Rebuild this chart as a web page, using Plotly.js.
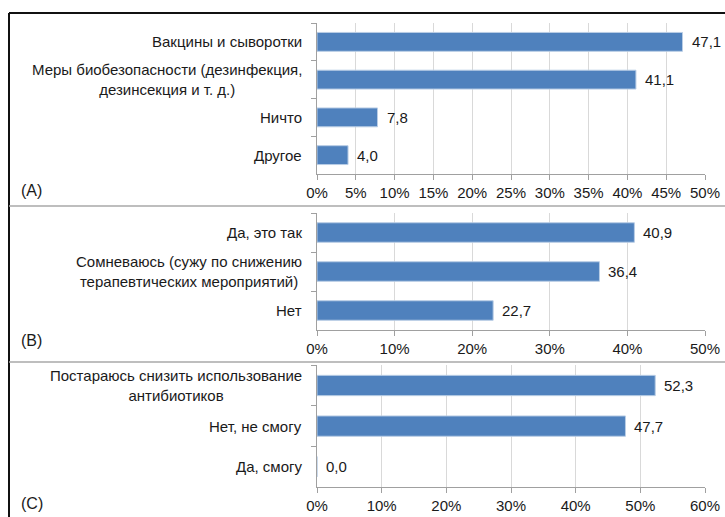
<!DOCTYPE html>
<html>
<head>
<meta charset="utf-8">
<script src="https://cdn.plot.ly/plotly-3.0.1.min.js"></script>
<style>html,body{margin:0;padding:0;background:#fff}#chart{width:725px;height:517px}</style>
</head>
<body>
<div id="chart"></div>
<script>
// Panel A
const catsA = ["Вакцины и сыворотки", "Меры биобезопасности (дезинфекция,<br>дезинсекция и т. д.)", "Ничто", "Другое"];
const valsA = [47.1, 41.1, 7.8, 4.0];
// Panel B
const catsB = ["Да, это так", "Сомневаюсь (сужу по снижению<br>терапевтических мероприятий)", "Нет"];
const valsB = [40.9, 36.4, 22.7];
// Panel C
const catsC = ["Постараюсь снизить использование<br>антибиотиков", "Нет, не смогу", "Да, смогу"];
const valsC = [52.3, 47.7, 0.0];
const panelLabels = ["(A)", "(B)", "(C)"];

const W = 725, H = 517;
const FONT = "Arial, 'Liberation Sans', sans-serif";
const FS = 15;
const barColor = "#4F81BD";
const fmt = v => v.toFixed(1).replace('.', ',');

const panels = [
  {cats: catsA, vals: valsA, top: 23, bottom: 174, range: [0, 50], dtick: 5, lab: 190},
  {cats: catsB, vals: valsB, top: 213, bottom: 330, range: [0, 50], dtick: 10, lab: 340},
  {cats: catsC, vals: valsC, top: 365, bottom: 487, range: [0, 60], dtick: 10, lab: 503}
];
const xL = 317, xR = 705;

const data = [];
const layout = {
  width: W, height: H,
  margin: {l: 0, r: 0, t: 0, b: 0},
  paper_bgcolor: "#fff", plot_bgcolor: "#fff",
  showlegend: false,
  font: {family: FONT, size: FS, color: "#1a1a1a"},
  annotations: [],
  shapes: [
    {type: "line", xref: "paper", yref: "paper", x0: 9 / W, x1: 1, y0: 1 - 13 / H, y1: 1 - 13 / H, line: {color: "#111", width: 2}},
    {type: "line", xref: "paper", yref: "paper", x0: 9 / W, x1: 9 / W, y0: 0, y1: 1 - 13 / H, line: {color: "#111", width: 2}},
    {type: "line", xref: "paper", yref: "paper", x0: 9 / W, x1: 1, y0: 1 - 206 / H, y1: 1 - 206 / H, line: {color: "#a8a8a8", width: 1.5}},
    {type: "line", xref: "paper", yref: "paper", x0: 9 / W, x1: 1, y0: 1 - 362 / H, y1: 1 - 362 / H, line: {color: "#a8a8a8", width: 1.5}}
  ]
};

panels.forEach((p, i) => {
  const n = i + 1;
  const xa = n === 1 ? "x" : "x" + n;
  const ya = n === 1 ? "y" : "y" + n;
  const xk = n === 1 ? "xaxis" : "xaxis" + n;
  const yk = n === 1 ? "yaxis" : "yaxis" + n;
  data.push({
    type: "bar", orientation: "h",
    x: p.vals, y: p.cats,
    xaxis: xa, yaxis: ya,
    width: 0.5,
    marker: {color: barColor, line: {color: "#b9cde5", width: 1}},
    hoverinfo: "skip"
  });
  layout[xk] = {
    domain: [xL / W, xR / W], anchor: ya,
    range: p.range, dtick: p.dtick, tick0: 0,
    ticksuffix: "%",
    showgrid: true, gridcolor: "#d9d9d9", gridwidth: 1,
    zeroline: false,
    showline: true, linecolor: "#a0a0a0", linewidth: 1,
    ticks: "outside", ticklen: 5, tickcolor: "#a0a0a0",
    tickfont: {family: FONT, size: FS, color: "#1a1a1a"},
    fixedrange: true
  };
  layout[yk] = {
    domain: [1 - p.bottom / H, 1 - p.top / H], anchor: xa,
    type: "category",
    categoryorder: "array", categoryarray: p.cats,
    autorange: "reversed",
    showline: true, linecolor: "#a0a0a0", linewidth: 1,
    ticks: "outside", ticklen: 5, tickcolor: "#a0a0a0", tickson: "boundaries",
    showticklabels: false, showgrid: false, zeroline: false,
    fixedrange: true
  };
  p.cats.forEach((c, j) => {
    layout.annotations.push({
      xref: "paper", yref: ya, x: 304 / W, y: c,
      xanchor: "right", yanchor: "middle", align: "center",
      text: c, showarrow: false,
      font: {family: FONT, size: FS, color: "#1a1a1a"}
    });
    layout.annotations.push({
      xref: xa, yref: ya, x: p.vals[j], y: c,
      xanchor: "left", yanchor: "middle", xshift: 7,
      text: fmt(p.vals[j]), showarrow: false,
      font: {family: FONT, size: FS, color: "#1a1a1a"}
    });
  });
  layout.annotations.push({
    xref: "paper", yref: "paper", x: 19 / W, y: 1 - p.lab / H,
    xanchor: "left", yanchor: "middle",
    text: panelLabels[i], showarrow: false,
    font: {family: FONT, size: 16, color: "#1a1a1a"}
  });
});

Plotly.newPlot("chart", data, layout, {displayModeBar: false, staticPlot: true});
</script>
</body>
</html>
